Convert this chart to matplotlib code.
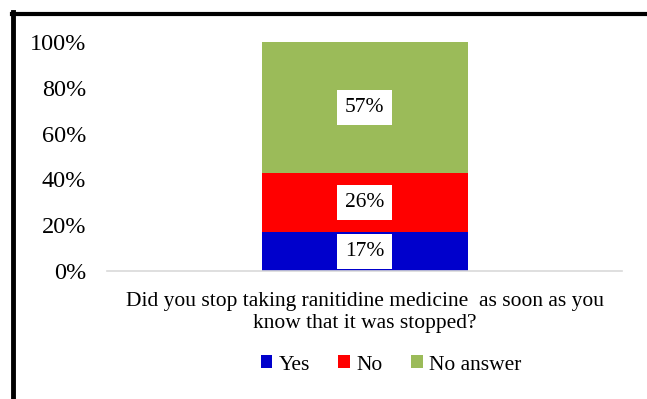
import matplotlib
matplotlib.use("Agg")
import matplotlib.pyplot as plt
from matplotlib.patches import Patch
from matplotlib.lines import Line2D

plt.rcParams['font.family'] = ['Liberation Serif', 'DejaVu Serif']

category = "Did you stop taking ranitidine medicine  as soon as you\nknow that it was stopped?"
series = ["Yes", "No", "No answer"]
values = [0.17, 0.26, 0.57]
colors = ["#0000CC", "#FF0000", "#9BBB59"]
yticks = [0, 0.2, 0.4, 0.6, 0.8, 1.0]
ytick_labels = ["0%", "20%", "40%", "60%", "80%", "100%"]

fig = plt.figure(figsize=(6.47, 3.99), dpi=100)
ax = fig.add_axes([107/647, 1 - 271/399, 515/647, 229/399])

bottom = 0
for name, v, c in zip(series, values, colors):
    ax.bar(0, v, width=0.4, bottom=bottom, color=c, label=name)
    ax.text(0, bottom + v / 2, f"{round(v*100)}%", ha='center', va='center',
            fontsize=15.5, color='black',
            bbox=dict(boxstyle='square,pad=0.38', fc='white', ec='none'))
    bottom += v

ax.set_xlim(-0.5, 0.5)
ax.set_ylim(0, 1.0)
ax.set_yticks(yticks)
ax.set_yticklabels(ytick_labels, fontsize=17.5)
ax.set_xticks([0])
ax.set_xticklabels([category], fontsize=15.5, linespacing=1.25)
ax.tick_params(axis='both', length=0)
ax.tick_params(axis='y', pad=15)
ax.tick_params(axis='x', pad=15)
for s in ['top', 'right', 'left']:
    ax.spines[s].set_visible(False)
ax.spines['bottom'].set_color('#D9D9D9')
ax.spines['bottom'].set_linewidth(1.2)

handles = [Patch(facecolor=c, edgecolor='none') for c in colors]
fig.legend(handles, series, loc='center', bbox_to_anchor=(391/647, 1 - 365/399),
           ncol=3, frameon=False, fontsize=15.5, handlelength=0.55, handleheight=0.55,
           handletextpad=0.3, columnspacing=1.3)

# outer frame edges
fig.add_artist(Line2D([13/647, 13/647], [0, 1 - 12/399], transform=fig.transFigure,
                      color='black', linewidth=3.5))
fig.add_artist(Line2D([11.5/647, 1], [1 - 13.5/399, 1 - 13.5/399], transform=fig.transFigure,
                      color='black', linewidth=3))

fig.savefig("out.png", dpi=100)
